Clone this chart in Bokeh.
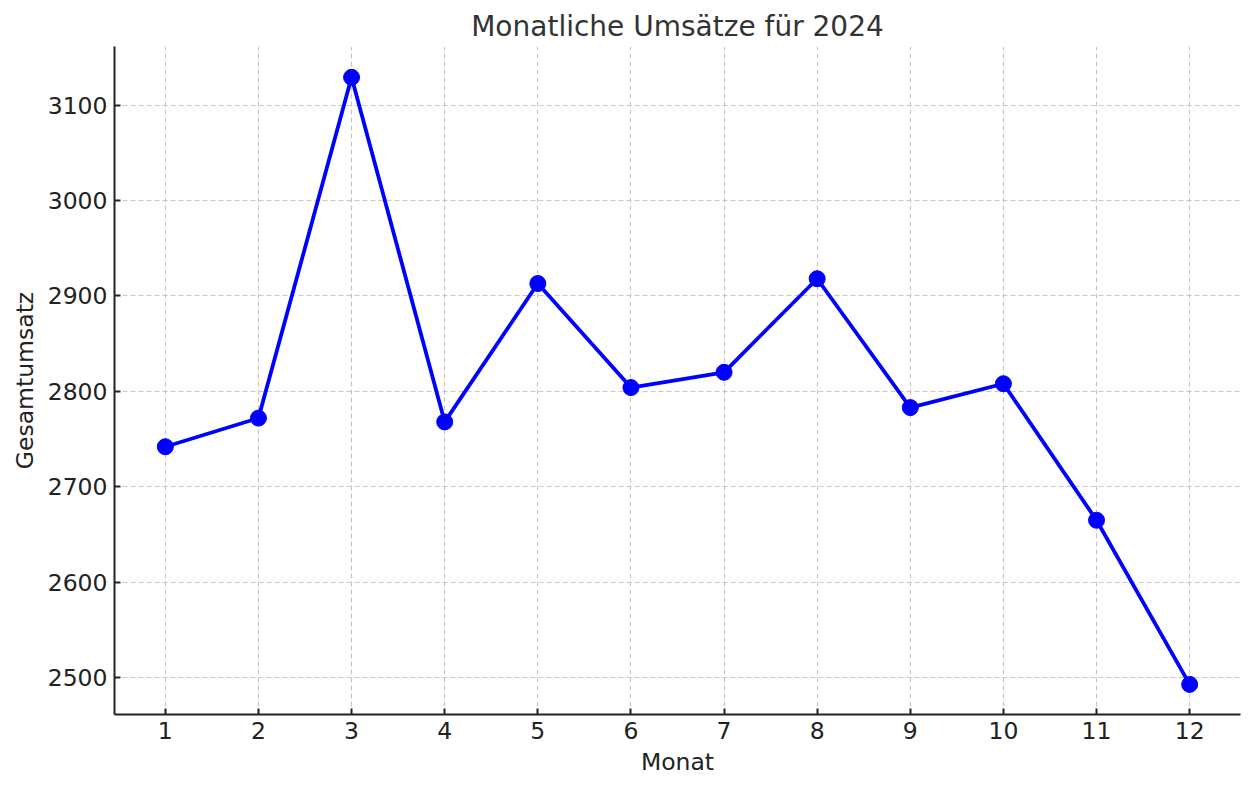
from bokeh.plotting import figure
from bokeh.embed import file_html
from bokeh.resources import INLINE
from bokeh.models import Range1d, FixedTicker

months = [1, 2, 3, 4, 5, 6, 7, 8, 9, 10, 11, 12]
sales = [2742, 2772, 3129, 2768, 2913, 2804, 2820, 2918, 2783, 2808, 2665, 2493]
y_ticks = [2500, 2600, 2700, 2800, 2900, 3000, 3100]

FONT = "DejaVu Sans"

p = figure(frame_width=1126, frame_height=668, output_backend="svg", toolbar_location=None,
           x_range=Range1d(0.454, 12.546), y_range=Range1d(2461.5, 3161.3),
           min_border_left=114, min_border_right=4, min_border_top=46, min_border_bottom=70)

p.title.text = "Monatliche Umsätze für 2024"
p.title.align = "center"
p.title.text_font = FONT
p.title.text_font_size = "28px"
p.title.text_font_style = "normal"
p.title.text_color = "#333333"
p.title.offset = 0
p.title.standoff = 8

p.line(months, sales, line_color="#0000ff", line_width=3.8)
p.scatter(months, sales, size=16, fill_color="#0000ff", line_color="#0000ff")

p.xaxis.ticker = FixedTicker(ticks=months)
p.yaxis.ticker = FixedTicker(ticks=y_ticks)
p.xaxis.axis_label = "Monat"
p.yaxis.axis_label = "Gesamtumsatz"

for ax in (p.xaxis, p.yaxis):
    ax.axis_label_text_font = FONT
    ax.axis_label_text_font_size = "23.5px"
    ax.axis_label_text_font_style = "normal"
    ax.axis_label_text_color = "#222222"
    ax.major_label_text_font = FONT
    ax.major_label_text_font_size = "23.5px"
    ax.major_label_text_color = "#222222"
    ax.axis_line_color = "#222222"
    ax.axis_line_width = 2
    ax.major_tick_in = 6
    ax.major_tick_out = 0
    ax.major_tick_line_color = "#222222"
    ax.major_tick_line_width = 2
    ax.minor_tick_line_color = None
    ax.major_label_standoff = 7
    ax.axis_label_standoff = 6

for g in (p.xgrid, p.ygrid):
    g.grid_line_color = "#c8c8c8"
    g.grid_line_dash = "5 3"
    g.grid_line_width = 1.2

p.outline_line_color = None
p.background_fill_color = "white"
p.border_fill_color = "white"

open("out.html", "w").write(file_html(p, INLINE))
